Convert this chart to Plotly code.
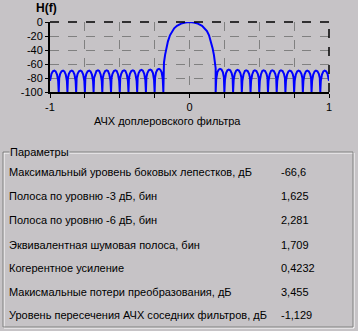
import plotly.graph_objects as go

# ---------------- data ----------------
freq_left = [
    -1.0, -0.9965, -0.9895, -0.9795, -0.9685, -0.9595, -0.9495, -0.9415,
    -0.9375, -0.934, -0.927, -0.917, -0.906, -0.897, -0.887, -0.879,
    -0.875, -0.8715, -0.8645, -0.8545, -0.8435, -0.8345, -0.8245, -0.8165,
    -0.8125, -0.809, -0.802, -0.792, -0.781, -0.772, -0.762, -0.754,
    -0.75, -0.7465, -0.7395, -0.7295, -0.7185, -0.7095, -0.6995, -0.6915,
    -0.6875, -0.684, -0.677, -0.667, -0.656, -0.647, -0.637, -0.629,
    -0.625, -0.6215, -0.6145, -0.6045, -0.5935, -0.5845, -0.5745, -0.5665,
    -0.5625, -0.559, -0.552, -0.542, -0.531, -0.522, -0.512, -0.504,
    -0.5, -0.4965, -0.4895, -0.4795, -0.4685, -0.4595, -0.4495, -0.4415,
    -0.4375, -0.434, -0.427, -0.417, -0.406, -0.397, -0.387, -0.379,
    -0.375, -0.3715, -0.3645, -0.3545, -0.3435, -0.3345, -0.3245, -0.3165,
    -0.3125, -0.309, -0.302, -0.292, -0.281, -0.272, -0.262, -0.254,
    -0.25, -0.2465, -0.2395, -0.2295, -0.2185, -0.2095, -0.1995, -0.1915,
    -0.1875,
]
level_left = [
    -84, -80, -74, -70.5, -69.5, -70.5, -75, -84,
    -100, -80, -74, -70.5, -69.5, -70.5, -75, -84,
    -100, -80, -74, -70.5, -69.5, -70.5, -75, -84,
    -100, -80, -74, -70.5, -69.5, -70.5, -75, -84,
    -100, -80, -74, -70.5, -69.5, -70.5, -75, -84,
    -100, -80, -74, -70.0, -69.0, -70.0, -75, -84,
    -100, -80, -74, -70.0, -69.0, -70.0, -75, -84,
    -100, -80, -74, -70.0, -69.0, -70.0, -75, -84,
    -100, -80, -74, -70.0, -69.0, -70.0, -75, -84,
    -100, -80, -74, -70.0, -69.0, -70.0, -75, -84,
    -100, -79, -73, -69.5, -68.5, -69.5, -74, -83,
    -100, -79, -73, -69.0, -68.0, -69.0, -73, -83,
    -100, -79, -72, -68.0, -67.0, -68.0, -72, -82,
    -100,
]

freq_main = [
    -0.1875, -0.183, -0.175, -0.165, -0.155, -0.14, -0.125, -0.11, -0.09,
    -0.06, -0.03, 0.0, 0.03, 0.06, 0.09, 0.11, 0.125, 0.14, 0.155, 0.165,
    0.175, 0.183, 0.1875,
]
level_main = [
    -66, -58, -47, -37, -28, -19, -13, -9, -5.5,
    -2.3, -0.6, 0.0, -0.6, -2.3, -5.5, -9, -13, -19, -28, -37,
    -47, -58, -66,
]

freq_right = [
    0.1875, 0.1915, 0.1995, 0.2095, 0.2185, 0.2295, 0.2395, 0.2465,
    0.25, 0.254, 0.262, 0.272, 0.281, 0.292, 0.302, 0.309,
    0.3125, 0.3165, 0.3245, 0.3345, 0.3435, 0.3545, 0.3645, 0.3715,
    0.375, 0.379, 0.387, 0.397, 0.406, 0.417, 0.427, 0.434,
    0.4375, 0.4415, 0.4495, 0.4595, 0.4685, 0.4795, 0.4895, 0.4965,
    0.5, 0.504, 0.512, 0.522, 0.531, 0.542, 0.552, 0.559,
    0.5625, 0.5665, 0.5745, 0.5845, 0.5935, 0.6045, 0.6145, 0.6215,
    0.625, 0.629, 0.637, 0.647, 0.656, 0.667, 0.677, 0.684,
    0.6875, 0.6915, 0.6995, 0.7095, 0.7185, 0.7295, 0.7395, 0.7465,
    0.75, 0.754, 0.762, 0.772, 0.781, 0.792, 0.802, 0.809,
    0.8125, 0.8165, 0.8245, 0.8345, 0.8435, 0.8545, 0.8645, 0.8715,
    0.875, 0.879, 0.887, 0.897, 0.906, 0.917, 0.927, 0.934,
    0.9375, 0.9415, 0.9495, 0.9595, 0.9685, 0.9795, 0.9895, 0.9965,
    1.0,
]
level_right = [
    -100, -82, -72, -68.0, -67.0, -68.0, -72, -79,
    -100, -83, -73, -69.0, -68.0, -69.0, -73, -79,
    -100, -83, -74, -69.5, -68.5, -69.5, -73, -79,
    -100, -84, -75, -70.0, -69.0, -70.0, -74, -80,
    -100, -84, -75, -70.0, -69.0, -70.0, -74, -80,
    -100, -84, -75, -70.0, -69.0, -70.0, -74, -80,
    -100, -84, -75, -70.0, -69.0, -70.0, -74, -80,
    -100, -84, -75, -70.0, -69.0, -70.0, -74, -80,
    -100, -84, -75, -70.5, -69.5, -70.5, -74, -80,
    -100, -84, -75, -70.5, -69.5, -70.5, -74, -80,
    -100, -84, -75, -70.5, -69.5, -70.5, -74, -80,
    -100, -84, -75, -70.5, -69.5, -70.5, -74, -80,
    -100, -84, -75, -70.5, -69.5, -70.5, -74, -80,
    -84,
]

x_tick_vals = [-1, -0.75, -0.5, -0.25, 0, 0.25, 0.5, 0.75, 1]
x_tick_text = ["-1", "", "", "", "0", "", "", "", "1"]
y_tick_vals = [0, -20, -40, -60, -80, -100]
y_tick_text = ["0", "-20", "-40", "-60", "-80", "-100"]

param_names = [
    "Максимальный уровень боковых лепестков, дБ",
    "Полоса по уровню -3 дБ, бин",
    "Полоса по уровню -6 дБ, бин",
    "Эквивалентная шумовая полоса, бин",
    "Когерентное усиление",
    "Макисмальные потери преобразования, дБ",
    "Уровень пересечения АЧХ соседних фильтров, дБ",
]
param_values = ["-66,6", "1,625", "2,281", "1,709", "0,4232", "3,455", "-1,129"]

chart_title = "H(f)"
x_title = "АЧХ доплеровского фильтра"
group_title = "Параметры"

# ---------------- layout helpers ----------------
W, H = 358, 331
L, R, T, B = 50, 29, 22, 239
PW, PH = W - L - R, H - T - B
BG = "#c6c3c6"
FONT = "Liberation Sans, Arial, sans-serif"
FS = 11


def px(x):
    return (x - L) / PW


def py(y):
    return 1 - (y - T) / PH


freq = freq_left + freq_main + freq_right
level = level_left + level_main + level_right

fig = go.Figure()
fig.add_trace(go.Scatter(x=freq, y=level, mode="lines",
                         line=dict(color="#0000ff", width=2),
                         hoverinfo="skip", showlegend=False, cliponaxis=True))

fig.update_xaxes(range=[-1, 1], tickvals=x_tick_vals, ticktext=x_tick_text,
                 showgrid=True, gridcolor="#808080", griddash="dash", gridwidth=1,
                 showline=True, linecolor="black", linewidth=2,
                 ticks="outside", ticklen=4, tickcolor="black", tickwidth=1,
                 tickfont=dict(family=FONT, size=FS, color="black"),
                 zeroline=False, fixedrange=True)
fig.update_yaxes(range=[-100, 0], tickvals=y_tick_vals, ticktext=y_tick_text,
                 showgrid=True, gridcolor="#808080", griddash="dash", gridwidth=1,
                 showline=True, linecolor="black", linewidth=2,
                 ticks="outside", ticklen=3, tickcolor="black", tickwidth=1,
                 tickfont=dict(family=FONT, size=FS, color="black"),
                 zeroline=False, fixedrange=True)

shapes = [
    # dashed top and right frame
    dict(type="line", xref="paper", yref="paper", x0=0, x1=1, y0=1, y1=1,
         line=dict(color="black", width=1.5, dash="dash")),
    dict(type="line", xref="paper", yref="paper", x0=1, x1=1, y0=0, y1=1,
         line=dict(color="black", width=1.5, dash="dash")),
    # group box (etched)
    dict(type="rect", xref="paper", yref="paper", x0=px(4), x1=px(354),
         y0=py(328), y1=py(153), line=dict(color="#ffffff", width=1)),
    dict(type="rect", xref="paper", yref="paper", x0=px(3), x1=px(353),
         y0=py(327), y1=py(152), line=dict(color="#808080", width=1)),
]

annotations = [
    dict(text="<b>" + chart_title + "</b>", x=px(46), y=py(8), xref="paper", yref="paper",
         showarrow=False, font=dict(family=FONT, size=12, color="black"),
         xanchor="center", yanchor="middle"),
    dict(text=x_title, x=px(167), y=py(121), xref="paper", yref="paper",
         showarrow=False, font=dict(family=FONT, size=FS, color="black"),
         xanchor="center", yanchor="middle"),
    dict(text=group_title, x=px(9), y=py(152), xref="paper", yref="paper",
         showarrow=False, font=dict(family=FONT, size=FS, color="black"),
         xanchor="left", yanchor="middle", bgcolor=BG, borderpad=0),
]
row_y = [172, 196, 220, 245, 268, 292, 315]
for name, val, yy in zip(param_names, param_values, row_y):
    annotations.append(dict(text=name, x=px(7), y=py(yy), xref="paper", yref="paper",
                            showarrow=False, font=dict(family=FONT, size=FS, color="black"),
                            xanchor="left", yanchor="middle"))
    annotations.append(dict(text=val, x=px(279), y=py(yy), xref="paper", yref="paper",
                            showarrow=False, font=dict(family=FONT, size=FS, color="black"),
                            xanchor="left", yanchor="middle"))

fig.update_layout(width=W, height=H, margin=dict(l=L, r=R, t=T, b=B, autoexpand=False),
                  paper_bgcolor=BG, plot_bgcolor=BG, shapes=shapes,
                  annotations=annotations, showlegend=False)

fig.write_html("out.html", config={"displayModeBar": False})
